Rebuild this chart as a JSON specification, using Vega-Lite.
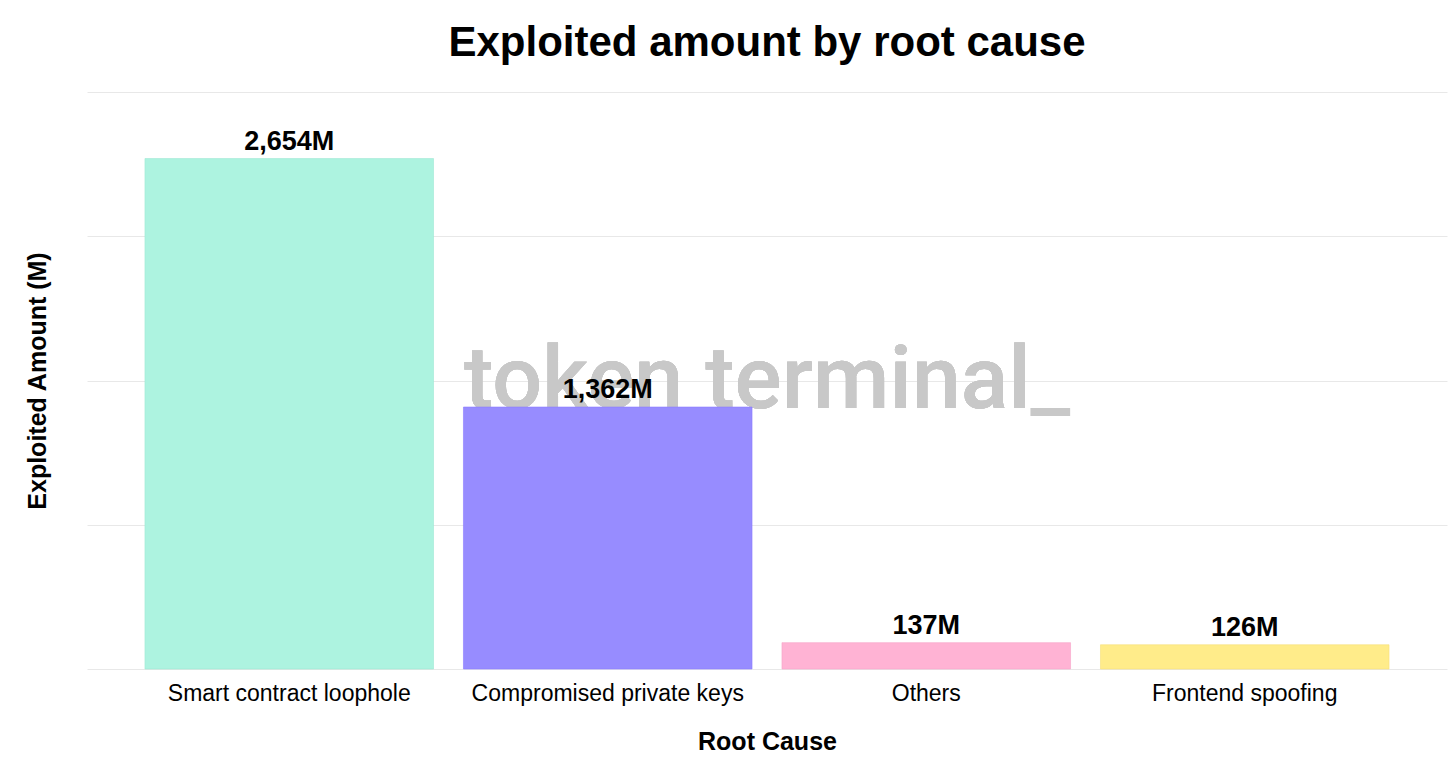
{
  "$schema": "https://vega.github.io/schema/vega-lite/v6.json",
  "width": 1360,
  "height": 577,
  "autosize": {"type": "none"},
  "padding": {"left": 87, "top": 92, "right": 9, "bottom": 108},
  "background": "white",
  "config": {
    "view": {"stroke": null},
    "font": "Liberation Sans"
  },
  "title": {
    "text": "Exploited amount by root cause",
    "fontSize": 42,
    "fontWeight": "bold",
    "color": "#000000",
    "anchor": "middle",
    "offset": 27
  },
  "data": {
    "values": [
      {"cause": "Smart contract loophole", "amount": 2654, "label": "2,654M"},
      {"cause": "Compromised private keys", "amount": 1362, "label": "1,362M"},
      {"cause": "Others", "amount": 137, "label": "137M"},
      {"cause": "Frontend spoofing", "amount": 126, "label": "126M"}
    ]
  },
  "encoding": {
    "x": {
      "field": "cause",
      "type": "nominal",
      "sort": null,
      "scale": {
        "domain": ["Smart contract loophole", "Compromised private keys", "Others", "Frontend spoofing"],
        "paddingInner": 0.094,
        "paddingOuter": 0.182
      },
      "axis": {
        "title": "Root Cause",
        "titleFontSize": 25,
        "titleFontWeight": "bold",
        "titleColor": "#000000",
        "titlePadding": 24,
        "labelFontSize": 23,
        "labelColor": "#000000",
        "labelAngle": 0,
        "labelPadding": 13,
        "labelLimit": 0,
        "ticks": false,
        "domain": false,
        "grid": false
      }
    }
  },
  "layer": [
    {
      "mark": {"type": "text", "font": "Roboto", "fontWeight": 500, "fontSize": 88, "color": "#c8c8c8", "baseline": "alphabetic", "align": "center", "dx": 15},
      "encoding": {
        "x": {"datum": "Compromised private keys", "bandPosition": 1},
        "y": {"datum": 1357, "type": "quantitative"},
        "text": {"value": "token terminal_"}
      }
    },
    {
      "mark": {"type": "bar", "strokeWidth": 1, "strokeOpacity": 0.6},
      "encoding": {
        "y": {
          "field": "amount",
          "type": "quantitative",
          "scale": {"domain": [0, 3000], "nice": false},
          "axis": {
            "title": "Exploited Amount (M)",
            "titleFontSize": 25,
            "titleFontWeight": "bold",
            "titleColor": "#000000",
            "titlePadding": 37,
            "labels": false,
            "ticks": false,
            "domain": false,
            "grid": true,
            "gridColor": "#e8e8e8",
            "values": [0, 750, 1500, 2250, 3000]
          }
        },
        "color": {
          "field": "cause",
          "type": "nominal",
          "scale": {
            "domain": ["Smart contract loophole", "Compromised private keys", "Others", "Frontend spoofing"],
            "range": ["#adf3e0", "#978cff", "#ffb3d4", "#ffec8a"]
          },
          "legend": null
        },
        "stroke": {
          "field": "cause",
          "type": "nominal",
          "scale": {
            "domain": ["Smart contract loophole", "Compromised private keys", "Others", "Frontend spoofing"],
            "range": ["#9ee8d3", "#8a7cff", "#f7a3c8", "#f7e07a"]
          },
          "legend": null
        }
      }
    },
    {
      "mark": {"type": "text", "fontSize": 27, "fontWeight": "bold", "color": "#000000", "baseline": "alphabetic", "dy": -9},
      "encoding": {
        "y": {"field": "amount", "type": "quantitative"},
        "text": {"field": "label"}
      }
    }
  ]
}
